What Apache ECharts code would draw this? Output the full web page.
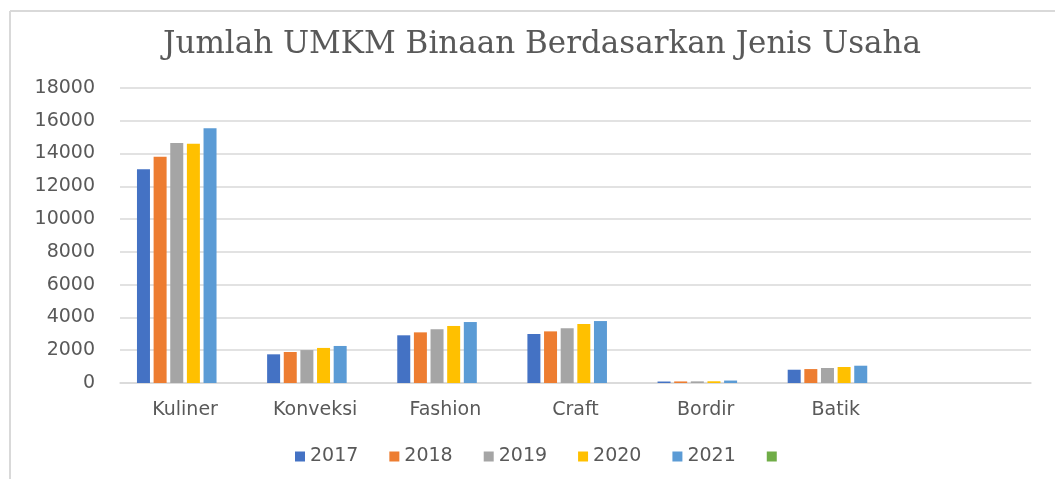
<!DOCTYPE html>
<html>
<head>
<meta charset="utf-8">
<script src="https://cdn.jsdelivr.net/npm/echarts@6/dist/echarts.min.js"></script>
<style>
  html, body { margin: 0; padding: 0; background: #fff; overflow: hidden; }
  #chart { width: 1055px; height: 479px; }
</style>
</head>
<body>
<div id="chart"></div>
<script>
// kategori jenis usaha (slot terakhir kosong seperti di gambar asli)
const categories = ['Kuliner', 'Konveksi', 'Fashion', 'Craft', 'Bordir', 'Batik', '']
const years = ['2017', '2018', '2019', '2020', '2021', ' ']
const yTicks = [0, 2000, 4000, 6000, 8000, 10000, 12000, 14000, 16000, 18000]

// nilai per tahun
const v2017 = [13050, 1750, 2910, 2990, 90, 810, null]
const v2018 = [13800, 1890, 3090, 3150, 95, 850, null]
const v2019 = [14650, 2010, 3280, 3340, 100, 915, null]
const v2020 = [14600, 2140, 3480, 3600, 105, 975, null]
const v2021 = [15550, 2260, 3720, 3780, 150, 1055, null]
const vKosong = [null, null, null, null, null, null, null]

const colors = ['#4472C4', '#ED7D31', '#A5A5A5', '#FFC000', '#5B9BD5', '#70AD47']
const allData = [v2017, v2018, v2019, v2020, v2021, vKosong]

let mycharts = echarts.init(document.getElementById('chart'))
var option = {
  color: colors,
  textStyle: { fontFamily: 'DejaVu Sans' },
  title: {
    text: 'Jumlah UMKM Binaan Berdasarkan Jenis Usaha',
    left: 537,
    textAlign: 'center',
    top: 24,
    textStyle: {
      fontFamily: 'DejaVu Serif',
      fontWeight: 'normal',
      fontSize: 31,
      color: '#595959',
    },
  },
  // bingkai tipis di kiri atas
  graphic: [
    {
      type: 'line',
      shape: { x1: 10, y1: 11, x2: 10, y2: 490 },
      style: { stroke: '#d9d9d9', lineWidth: 2 },
      silent: true,
    },
    {
      type: 'line',
      shape: { x1: 10, y1: 11, x2: 1100, y2: 11 },
      style: { stroke: '#d9d9d9', lineWidth: 2 },
      silent: true,
    },
  ],
  legend: {
    data: years,
    left: 290,
    top: 442,
    itemWidth: 10,
    itemHeight: 10,
    itemGap: 31,
    icon: 'rect',
    textStyle: { fontSize: 19, color: '#595959', fontFamily: 'DejaVu Sans' },
  },
  grid: {
    left: 120,
    right: 24,
    top: 88,
    bottom: 96,
  },
  xAxis: {
    type: 'category',
    data: categories,
    axisTick: { show: false },
    axisLine: { lineStyle: { color: '#d9d9d9', width: 1.5 } },
    axisLabel: { color: '#595959', fontSize: 19, margin: 18, interval: 0 },
  },
  yAxis: {
    type: 'value',
    min: yTicks[0],
    max: yTicks[yTicks.length - 1],
    interval: 2000,
    axisLine: { show: false },
    axisTick: { show: false },
    axisLabel: {
      color: '#595959',
      fontSize: 19,
      margin: 25,
      formatter: (v) => String(v),
    },
    splitLine: { lineStyle: { color: '#d9d9d9', width: 1.5 } },
  },
  series: years.map((y, i) => ({
    name: y,
    type: 'bar',
    barWidth: 13,
    barGap: '28%',
    data: allData[i],
  })),
}
mycharts.setOption(option)
</script>
</body>
</html>
